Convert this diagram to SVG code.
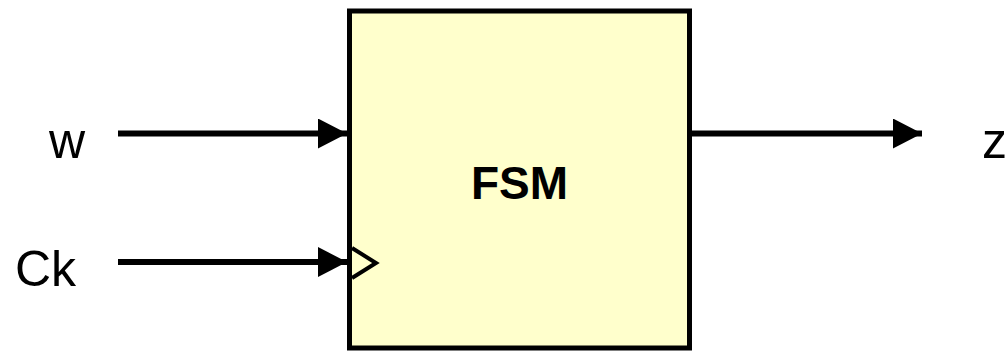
<svg xmlns="http://www.w3.org/2000/svg" width="1007" height="352" viewBox="0 0 1007 352">
<style>
.lbl{font-family:"Liberation Sans",Arial,sans-serif;font-size:50px;fill:#000}
.wire{stroke:#000;stroke-width:6;fill:none}
</style>
<defs>
<marker id="ah" markerUnits="userSpaceOnUse" markerWidth="29" markerHeight="30" refX="29" refY="15" orient="auto">
<path d="M0,0 L29,15 L0,30 Z" fill="#000"/>
</marker>
</defs>
<rect width="1007" height="352" fill="#fff"/>
<g id="fsm">
<rect x="349.5" y="11" width="340" height="337" fill="#ffffcc" stroke="#000" stroke-width="5"/>
<polyline points="352,248 376,263 352,278" fill="none" stroke="#000" stroke-width="4"/>
<text x="519.5" y="199" text-anchor="middle" style="font-family:'Liberation Sans',Arial,sans-serif;font-weight:bold;font-size:46px">FSM</text>
</g>
<g id="label-w"><text class="lbl" x="49" y="158">w</text></g>
<g id="label-ck"><text class="lbl" x="15" y="286">Ck</text></g>
<g id="label-z"><text class="lbl" x="982" y="158">z</text></g>
<g id="connectors">
<line class="wire" x1="118" y1="133.5" x2="347" y2="133.5" marker-end="url(#ah)"/>
<line class="wire" x1="118" y1="262" x2="347" y2="262" marker-end="url(#ah)"/>
<line class="wire" x1="689.5" y1="133.5" x2="922" y2="133.5" marker-end="url(#ah)"/>
</g>
</svg>
